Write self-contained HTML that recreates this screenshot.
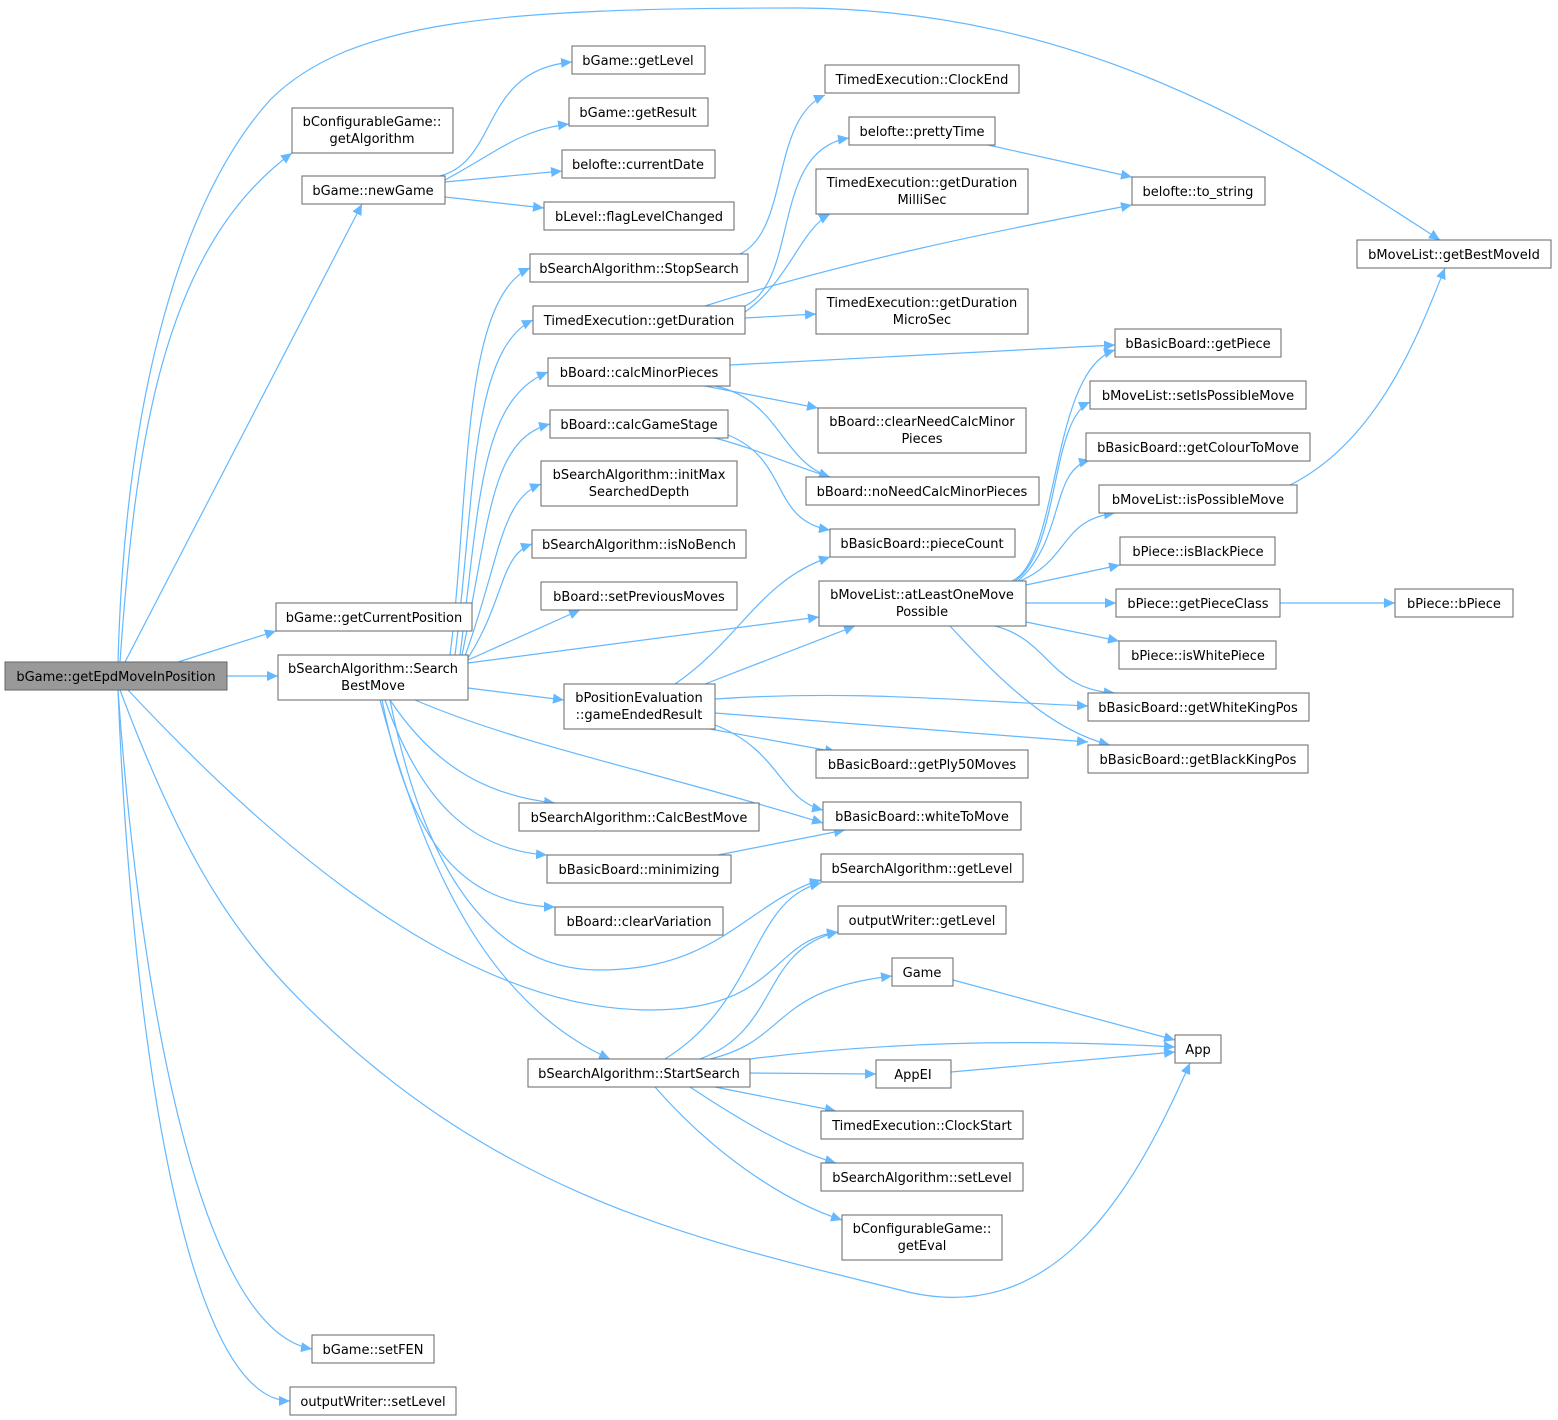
<!DOCTYPE html>
<html><head><meta charset="utf-8"><style>
html,body{margin:0;padding:0;background:#fff;}
svg{display:block;}
text{font-family:"DejaVu Sans","Liberation Sans",sans-serif;font-size:13px;fill:#000;text-anchor:middle;}
.n{fill:#fff;stroke:#666;stroke-width:1;}
.e{fill:none;stroke:#63b8ff;stroke-width:1.2;}
</style></head><body>
<svg width="1558" height="1420" viewBox="0 0 1558 1420" xmlns="http://www.w3.org/2000/svg">
<defs><marker id="a" markerWidth="12" markerHeight="10" refX="11" refY="5" orient="auto" markerUnits="userSpaceOnUse"><path d="M0,0 L11,5 L0,10 z" fill="#63b8ff"/></marker></defs>
<g class="edges">
<path class="e" marker-end="url(#a)" d="M227,676 L278,676"/>
<path class="e" marker-end="url(#a)" d="M178,662 L276,631"/>
<path class="e" marker-end="url(#a)" d="M125,662 L362,204"/>
<path class="e" marker-end="url(#a)" d="M120,662 C135,450 160,250 292,153"/>
<path class="e" marker-end="url(#a)" d="M118,662 C125,400 180,200 270,100 C350,20 500,8 800,8 C1100,10 1300,150 1440,240"/>
<path class="e" marker-end="url(#a)" d="M128,690 C250,820 450,1010 650,1010 C780,1010 770,940 838,932"/>
<path class="e" marker-end="url(#a)" d="M120,690 C180,850 230,930 300,1000 C500,1200 700,1240 900,1290 C1050,1330 1130,1200 1190,1063"/>
<path class="e" marker-end="url(#a)" d="M118,690 C140,1000 200,1330 312,1349"/>
<path class="e" marker-end="url(#a)" d="M118,690 C130,1000 180,1400 290,1401"/>
<path class="e" marker-end="url(#a)" d="M440,176 C500,160 480,70 572,62"/>
<path class="e" marker-end="url(#a)" d="M445,180 C500,150 520,130 569,124"/>
<path class="e" marker-end="url(#a)" d="M445,182 L562,171"/>
<path class="e" marker-end="url(#a)" d="M445,197 L544,208"/>
<path class="e" marker-end="url(#a)" d="M450,655 C470,500 460,300 530,268"/>
<path class="e" marker-end="url(#a)" d="M455,655 C475,500 470,350 533,320"/>
<path class="e" marker-end="url(#a)" d="M460,655 C480,500 480,400 548,372"/>
<path class="e" marker-end="url(#a)" d="M462,655 C490,520 490,440 550,424"/>
<path class="e" marker-end="url(#a)" d="M465,656 C500,560 500,500 541,484"/>
<path class="e" marker-end="url(#a)" d="M468,658 C505,600 500,555 532,544"/>
<path class="e" marker-end="url(#a)" d="M468,660 L580,610"/>
<path class="e" marker-end="url(#a)" d="M468,663 L819,617"/>
<path class="e" marker-end="url(#a)" d="M468,688 L564,700"/>
<path class="e" marker-end="url(#a)" d="M415,700 C520,745 650,770 823,823"/>
<path class="e" marker-end="url(#a)" d="M390,700 C430,760 480,795 555,803"/>
<path class="e" marker-end="url(#a)" d="M385,700 C420,800 470,850 547,855"/>
<path class="e" marker-end="url(#a)" d="M382,700 C410,840 460,905 555,907"/>
<path class="e" marker-end="url(#a)" d="M380,700 C420,850 480,1000 610,1059"/>
<path class="e" marker-end="url(#a)" d="M390,700 C420,850 480,970 600,970 C720,970 750,900 821,880"/>
<path class="e" marker-end="url(#a)" d="M740,254 C790,230 770,120 825,95"/>
<path class="e" marker-end="url(#a)" d="M745,306 C800,280 770,150 849,138"/>
<path class="e" marker-end="url(#a)" d="M745,312 C790,280 800,230 830,214"/>
<path class="e" marker-end="url(#a)" d="M705,306 C850,260 1000,230 1132,205"/>
<path class="e" marker-end="url(#a)" d="M745,318 L816,314"/>
<path class="e" marker-end="url(#a)" d="M988,145 L1132,177"/>
<path class="e" marker-end="url(#a)" d="M730,365 L1115,345"/>
<path class="e" marker-end="url(#a)" d="M705,386 L818,408"/>
<path class="e" marker-end="url(#a)" d="M715,386 C780,400 780,460 830,477"/>
<path class="e" marker-end="url(#a)" d="M715,438 C760,450 790,465 830,477"/>
<path class="e" marker-end="url(#a)" d="M728,435 C790,460 770,520 830,530"/>
<path class="e" marker-end="url(#a)" d="M675,684 C740,640 760,580 830,557"/>
<path class="e" marker-end="url(#a)" d="M705,684 L855,626"/>
<path class="e" marker-end="url(#a)" d="M715,699 C850,690 950,700 1088,706"/>
<path class="e" marker-end="url(#a)" d="M715,713 L1088,742"/>
<path class="e" marker-end="url(#a)" d="M710,729 L836,752"/>
<path class="e" marker-end="url(#a)" d="M715,725 C780,750 780,800 823,810"/>
<path class="e" marker-end="url(#a)" d="M718,855 L845,830"/>
<path class="e" marker-end="url(#a)" d="M1012,581 C1060,560 1050,370 1115,350"/>
<path class="e" marker-end="url(#a)" d="M1015,581 C1060,550 1050,420 1090,402"/>
<path class="e" marker-end="url(#a)" d="M1018,581 C1065,540 1050,470 1090,460"/>
<path class="e" marker-end="url(#a)" d="M1020,581 C1070,560 1060,520 1115,513"/>
<path class="e" marker-end="url(#a)" d="M1026,585 L1120,565"/>
<path class="e" marker-end="url(#a)" d="M1026,603 L1116,603"/>
<path class="e" marker-end="url(#a)" d="M1026,622 L1119,641"/>
<path class="e" marker-end="url(#a)" d="M995,626 C1050,640 1050,690 1115,693"/>
<path class="e" marker-end="url(#a)" d="M950,626 C1000,680 1050,730 1110,745"/>
<path class="e" marker-end="url(#a)" d="M1290,485 C1380,440 1420,330 1445,268"/>
<path class="e" marker-end="url(#a)" d="M1280,603 L1395,603"/>
<path class="e" marker-end="url(#a)" d="M953,980 L1175,1040"/>
<path class="e" marker-end="url(#a)" d="M951,1072 L1175,1052"/>
<path class="e" marker-end="url(#a)" d="M665,1059 C760,1000 750,900 821,883"/>
<path class="e" marker-end="url(#a)" d="M700,1059 C780,1030 760,950 838,932"/>
<path class="e" marker-end="url(#a)" d="M710,1059 C790,1040 770,990 892,976"/>
<path class="e" marker-end="url(#a)" d="M750,1059 C900,1040 1050,1040 1175,1047"/>
<path class="e" marker-end="url(#a)" d="M750,1073 L876,1074"/>
<path class="e" marker-end="url(#a)" d="M715,1087 L836,1111"/>
<path class="e" marker-end="url(#a)" d="M690,1087 C740,1120 790,1150 836,1163"/>
<path class="e" marker-end="url(#a)" d="M655,1087 C710,1150 780,1200 842,1220"/>
</g>
<g>
<rect x="5" y="662" width="222" height="28" fill="#999" stroke="#666"/><text x="116" y="681">bGame::getEpdMoveInPosition</text>
<rect class="n" x="292" y="108" width="161" height="45"/><text x="372" y="126">bConfigurableGame::</text><text x="372" y="143">getAlgorithm</text>
<rect class="n" x="302" y="176" width="143" height="28"/><text x="373" y="195">bGame::newGame</text>
<rect class="n" x="276" y="603" width="196" height="28"/><text x="374" y="622">bGame::getCurrentPosition</text>
<rect class="n" x="278" y="655" width="190" height="45"/><text x="373" y="673">bSearchAlgorithm::Search</text><text x="373" y="690">BestMove</text>
<rect class="n" x="312" y="1335" width="122" height="28"/><text x="373" y="1354">bGame::setFEN</text>
<rect class="n" x="290" y="1387" width="166" height="28"/><text x="373" y="1406">outputWriter::setLevel</text>
<rect class="n" x="572" y="46" width="133" height="28"/><text x="638" y="65">bGame::getLevel</text>
<rect class="n" x="569" y="98" width="139" height="28"/><text x="638" y="117">bGame::getResult</text>
<rect class="n" x="562" y="150" width="153" height="28"/><text x="638" y="169">belofte::currentDate</text>
<rect class="n" x="544" y="202" width="190" height="28"/><text x="639" y="221">bLevel::flagLevelChanged</text>
<rect class="n" x="530" y="254" width="218" height="28"/><text x="639" y="273">bSearchAlgorithm::StopSearch</text>
<rect class="n" x="533" y="306" width="212" height="28"/><text x="639" y="325">TimedExecution::getDuration</text>
<rect class="n" x="548" y="358" width="182" height="28"/><text x="639" y="377">bBoard::calcMinorPieces</text>
<rect class="n" x="550" y="410" width="178" height="28"/><text x="639" y="429">bBoard::calcGameStage</text>
<rect class="n" x="541" y="461" width="196" height="45"/><text x="639" y="479">bSearchAlgorithm::initMax</text><text x="639" y="496">SearchedDepth</text>
<rect class="n" x="532" y="530" width="214" height="28"/><text x="639" y="549">bSearchAlgorithm::isNoBench</text>
<rect class="n" x="541" y="582" width="196" height="28"/><text x="639" y="601">bBoard::setPreviousMoves</text>
<rect class="n" x="564" y="684" width="151" height="45"/><text x="639" y="702">bPositionEvaluation</text><text x="639" y="719">::gameEndedResult</text>
<rect class="n" x="519" y="803" width="240" height="28"/><text x="639" y="822">bSearchAlgorithm::CalcBestMove</text>
<rect class="n" x="547" y="855" width="184" height="28"/><text x="639" y="874">bBasicBoard::minimizing</text>
<rect class="n" x="555" y="907" width="168" height="28"/><text x="639" y="926">bBoard::clearVariation</text>
<rect class="n" x="528" y="1059" width="222" height="28"/><text x="639" y="1078">bSearchAlgorithm::StartSearch</text>
<rect class="n" x="825" y="65" width="194" height="28"/><text x="922" y="84">TimedExecution::ClockEnd</text>
<rect class="n" x="849" y="117" width="146" height="28"/><text x="922" y="136">belofte::prettyTime</text>
<rect class="n" x="816" y="169" width="212" height="45"/><text x="922" y="187">TimedExecution::getDuration</text><text x="922" y="204">MilliSec</text>
<rect class="n" x="816" y="289" width="212" height="45"/><text x="922" y="307">TimedExecution::getDuration</text><text x="922" y="324">MicroSec</text>
<rect class="n" x="818" y="408" width="208" height="45"/><text x="922" y="426">bBoard::clearNeedCalcMinor</text><text x="922" y="443">Pieces</text>
<rect class="n" x="806" y="477" width="233" height="28"/><text x="922" y="496">bBoard::noNeedCalcMinorPieces</text>
<rect class="n" x="830" y="529" width="185" height="28"/><text x="922" y="548">bBasicBoard::pieceCount</text>
<rect class="n" x="819" y="581" width="207" height="45"/><text x="922" y="599">bMoveList::atLeastOneMove</text><text x="922" y="616">Possible</text>
<rect class="n" x="816" y="750" width="212" height="28"/><text x="922" y="769">bBasicBoard::getPly50Moves</text>
<rect class="n" x="823" y="802" width="198" height="28"/><text x="922" y="821">bBasicBoard::whiteToMove</text>
<rect class="n" x="821" y="854" width="202" height="28"/><text x="922" y="873">bSearchAlgorithm::getLevel</text>
<rect class="n" x="838" y="906" width="168" height="28"/><text x="922" y="925">outputWriter::getLevel</text>
<rect class="n" x="892" y="958" width="61" height="28"/><text x="922" y="977">Game</text>
<rect class="n" x="876" y="1060" width="75" height="28"/><text x="913" y="1079">AppEI</text>
<rect class="n" x="821" y="1111" width="202" height="28"/><text x="922" y="1130">TimedExecution::ClockStart</text>
<rect class="n" x="821" y="1163" width="202" height="28"/><text x="922" y="1182">bSearchAlgorithm::setLevel</text>
<rect class="n" x="842" y="1215" width="160" height="45"/><text x="922" y="1233">bConfigurableGame::</text><text x="922" y="1250">getEval</text>
<rect class="n" x="1132" y="177" width="133" height="28"/><text x="1198" y="196">belofte::to_string</text>
<rect class="n" x="1115" y="329" width="166" height="28"/><text x="1198" y="348">bBasicBoard::getPiece</text>
<rect class="n" x="1090" y="381" width="216" height="28"/><text x="1198" y="400">bMoveList::setIsPossibleMove</text>
<rect class="n" x="1086" y="433" width="224" height="28"/><text x="1198" y="452">bBasicBoard::getColourToMove</text>
<rect class="n" x="1099" y="485" width="198" height="28"/><text x="1198" y="504">bMoveList::isPossibleMove</text>
<rect class="n" x="1120" y="537" width="155" height="28"/><text x="1198" y="556">bPiece::isBlackPiece</text>
<rect class="n" x="1116" y="589" width="164" height="28"/><text x="1198" y="608">bPiece::getPieceClass</text>
<rect class="n" x="1119" y="641" width="157" height="28"/><text x="1198" y="660">bPiece::isWhitePiece</text>
<rect class="n" x="1088" y="693" width="221" height="28"/><text x="1198" y="712">bBasicBoard::getWhiteKingPos</text>
<rect class="n" x="1088" y="745" width="220" height="28"/><text x="1198" y="764">bBasicBoard::getBlackKingPos</text>
<rect class="n" x="1175" y="1035" width="46" height="28"/><text x="1198" y="1054">App</text>
<rect class="n" x="1357" y="240" width="194" height="28"/><text x="1454" y="259">bMoveList::getBestMoveId</text>
<rect class="n" x="1395" y="589" width="118" height="28"/><text x="1454" y="608">bPiece::bPiece</text>
</g>
</svg>
</body></html>
